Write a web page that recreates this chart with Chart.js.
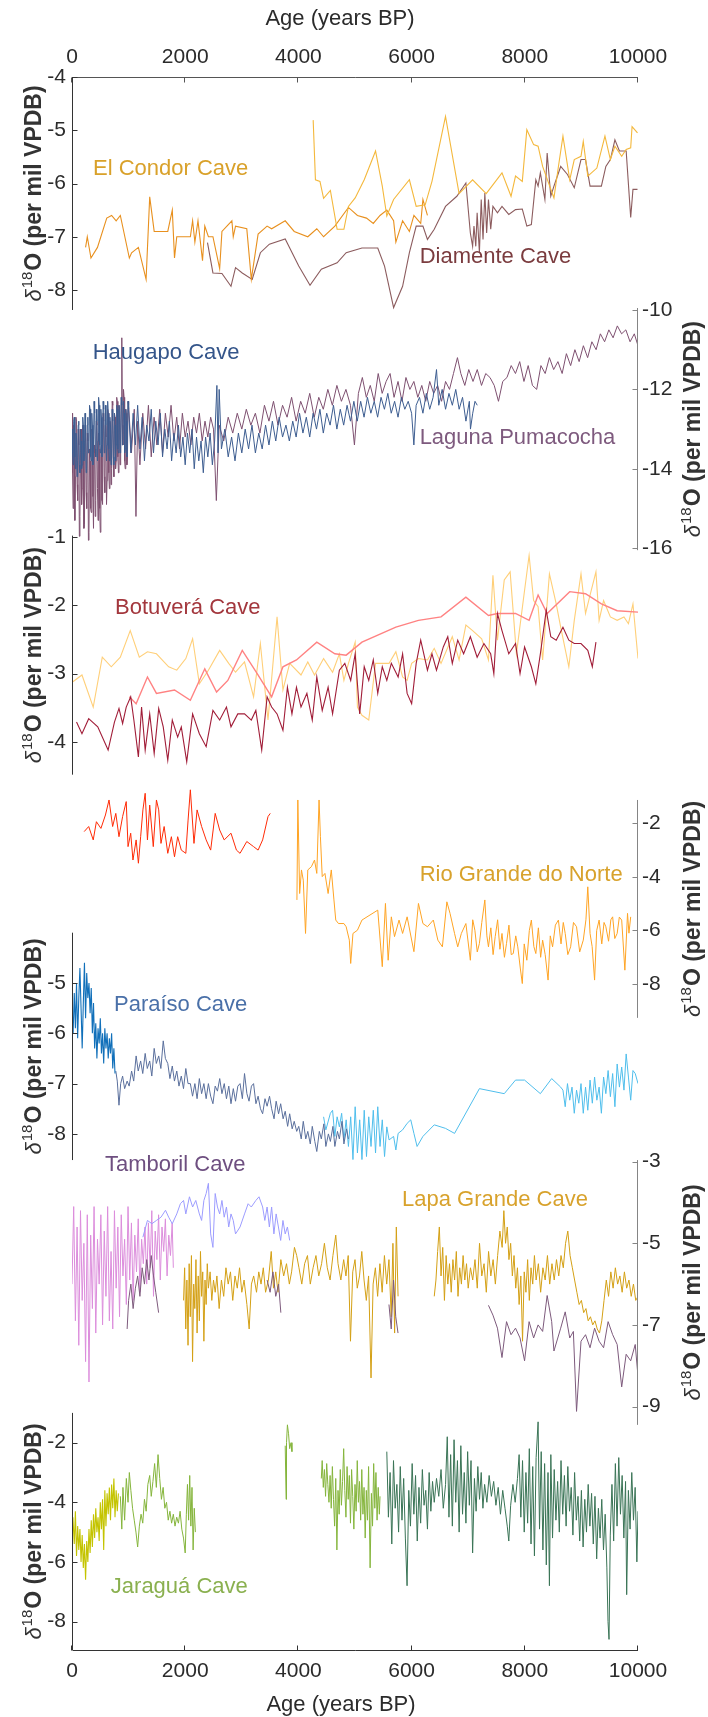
<!DOCTYPE html>
<html><head><meta charset="utf-8">
<script src="https://cdn.jsdelivr.net/npm/chart.js@4.4.1/dist/chart.umd.min.js"></script>
<style>html,body{margin:0;padding:0;background:#fff;}canvas{display:block;}</style>
</head><body>
<canvas id="c" width="708" height="1717"></canvas>
<script>
// ---------- tick labels ----------
const ageTicks = [0, 2000, 4000, 6000, 8000, 10000];
const ticksP1 = [-4, -5, -6, -7, -8];
const ticksP2 = [-10, -12, -14, -16];
const ticksP3 = [-1, -2, -3, -4];
const ticksP4 = [-2, -4, -6, -8];
const ticksP5 = [-5, -6, -7, -8];
const ticksP6 = [-3, -5, -7, -9];
const ticksP7 = [-2, -4, -6, -8];

// ---------- series: [age (years BP), d18O (per mil VPDB)] ----------
const elCondorA = [[240,-7.2],[270,-7.0],[335,-7.4],[450,-7.2],[614,-6.65],[700,-6.6],[780,-6.7],[854,-6.6],[1013,-7.4],[1053,-7.3],[1173,-7.2],[1309,-7.8],[1373,-6.25],[1452,-6.9],[1692,-6.9],[1772,-6.5],[1811,-7.4],[1851,-7.0],[1950,-7.0],[2091,-7.0],[2131,-6.7],[2171,-7.1],[2226,-6.7],[2306,-7.45],[2346,-6.8],[2410,-7.0],[2490,-7.0],[2609,-7.6],[2649,-6.9],[2825,-6.7],[2849,-7.0],[2889,-6.8],[3088,-6.85],[3168,-7.8],[3288,-6.95],[3447,-6.8],[3527,-6.85],[3767,-6.7],[3926,-6.9],[4166,-7.0],[4325,-6.85],[4445,-7.0],[4644,-6.8],[4884,-6.45],[5043,-6.6],[5203,-6.65],[5323,-6.75],[5442,-6.6],[5562,-6.5],[5682,-6.7],[5722,-7.1],[5841,-6.7],[5961,-6.9],[6041,-6.6],[6161,-6.75],[6200,-6.3],[6280,-6.6]];
const elCondorB = [[4261,-4.81],[4301,-5.93],[4381,-5.96],[4445,-6.28],[4565,-6.13],[4684,-6.86],[4804,-6.86],[4884,-6.43],[5003,-6.27],[5163,-5.93],[5363,-5.39],[5482,-6.05],[5562,-6.61],[5682,-6.3],[5961,-5.93],[6081,-6.43],[6240,-6.4],[6360,-5.96],[6599,-4.74],[6839,-6.19],[7078,-5.93],[7318,-6.19],[7597,-5.8],[7757,-6.24],[7836,-5.86],[7956,-5.96],[8036,-4.99],[8156,-5.27],[8235,-5.3],[8315,-5.68],[8515,-6.27],[8594,-5.68],[8674,-5.11],[8794,-5.93],[8874,-5.55],[8993,-5.49],[9033,-5.21],[9113,-5.86],[9273,-5.71],[9416,-5.11],[9512,-5.55],[9592,-5.3],[9712,-5.49],[9791,-5.36],[9871,-5.33],[9895,-4.93],[9991,-5.05]];
const diamente = [[2394,-7.11],[2490,-7.68],[2649,-7.69],[2809,-7.93],[2889,-7.58],[3008,-7.68],[3184,-7.8],[3328,-7.3],[3487,-7.14],[3767,-7.04],[4006,-7.55],[4205,-7.91],[4405,-7.61],[4684,-7.49],[4844,-7.3],[5123,-7.21],[5402,-7.21],[5522,-7.55],[5682,-8.33],[5841,-7.93],[5961,-7.3],[6081,-6.8],[6200,-6.8],[6280,-7.05],[6400,-6.86],[6599,-6.43],[6799,-6.24],[6959,-5.99],[7038,-6.93],[7078,-7.18],[7102,-6.8],[7134,-7.18],[7158,-6.55],[7198,-7.3],[7230,-6.3],[7262,-7.05],[7294,-6.18],[7326,-6.93],[7358,-6.3],[7398,-6.86],[7437,-6.43],[7517,-6.55],[7597,-6.43],[7717,-6.58],[7836,-6.49],[7956,-6.48],[8036,-6.8],[8116,-6.77],[8195,-5.93],[8235,-6.05],[8275,-5.8],[8355,-6.3],[8395,-5.43],[8459,-6.24],[8515,-6.05],[8634,-5.68],[8754,-5.83],[8874,-6.08],[8993,-5.55],[9073,-5.55],[9153,-6.05],[9273,-6.05],[9353,-6.05],[9432,-5.68],[9512,-5.55],[9592,-5.18],[9672,-5.39],[9791,-5.39],[9871,-6.64],[9911,-6.11],[9991,-6.11]];

const pumacocha = [[0,-12.6],[10,-14.1],[20,-15.0],[30,-12.9],[40,-13.1],[50,-15.3],[60,-14.2],[70,-12.7],[80,-12.8],[90,-14.4],[100,-14.8],[110,-13.0],[120,-13.4],[130,-15.7],[140,-15.2],[150,-13.6],[160,-13.0],[170,-14.9],[180,-14.5],[190,-12.9],[200,-13.6],[210,-15.5],[220,-15.4],[230,-13.3],[240,-12.9],[250,-14.6],[260,-15.0],[270,-13.1],[280,-13.3],[290,-15.8],[300,-15.6],[310,-13.5],[320,-13.8],[330,-15.0],[340,-15.1],[350,-13.0],[360,-13.2],[370,-14.7],[380,-15.5],[390,-13.4],[400,-13.6],[410,-15.2],[420,-14.8],[430,-12.8],[440,-12.9],[450,-14.5],[460,-15.3],[470,-13.1],[480,-13.5],[490,-15.0],[500,-15.6],[510,-13.7],[520,-13.4],[530,-14.8],[540,-14.9],[550,-12.6],[560,-12.8],[570,-14.2],[580,-14.6],[590,-12.9],[600,-13.2],[610,-14.9],[620,-14.3],[630,-12.5],[640,-12.6],[650,-14.1],[660,-14.5],[670,-12.8],[680,-12.9],[690,-14.4],[700,-14.0],[710,-12.3],[720,-12.4],[730,-13.9],[740,-14.2],[750,-12.6],[760,-12.7],[770,-14.0],[780,-13.8],[790,-12.2],[800,-12.3],[810,-13.7],[820,-14.1],[830,-12.4],[840,-12.5],[850,-13.9],[860,-13.6],[870,-12.2],[880,-10.7],[890,-12.9],[900,-13.4],[910,-12.0],[920,-12.2],[930,-13.8],[940,-14.0],[950,-12.5],[960,-12.6],[970,-13.9],[980,-13.7],[990,-12.3],[1000,-12.4],
[1050,-13.6],[1100,-12.5],[1130,-15.2],[1160,-12.8],[1200,-13.9],[1250,-12.6],[1300,-13.5],[1350,-12.4],[1400,-13.7],[1450,-12.7],[1500,-13.4],[1550,-12.5],[1600,-13.6],[1650,-12.6],[1700,-13.2],[1750,-12.4],[1800,-13.3],[1850,-12.7],[1900,-13.5],[1950,-12.6],[2000,-13.2],[2050,-12.8],[2100,-13.4],[2150,-12.7],[2200,-13.1],[2250,-12.6],[2300,-13.3],[2350,-12.8],[2400,-13.2],[2450,-12.7],[2500,-13.0],[2550,-14.8],[2600,-12.9],
[2680,-13.3],[2760,-12.7],[2840,-13.1],[2920,-12.6],[3000,-13.0],[3080,-12.5],[3160,-12.9],[3240,-12.6],[3320,-13.1],[3400,-12.4],[3480,-12.8],[3560,-12.3],[3640,-12.9],[3720,-12.4],[3800,-12.7],[3880,-12.2],[3960,-12.8],[4040,-12.3],[4120,-12.6],[4200,-12.1],[4280,-12.7],[4360,-12.2],[4440,-12.5],[4520,-12.0],[4600,-12.4],[4680,-11.9],[4760,-12.3],[4840,-12.0],[4920,-12.4],[4990,-13.4],[5060,-12.1],
[5130,-11.7],[5200,-12.2],[5270,-11.9],[5340,-12.3],[5410,-11.6],[5480,-12.1],[5550,-11.8],[5620,-11.6],[5690,-12.2],[5760,-11.8],[5830,-12.3],[5900,-11.7],[5970,-12.0],[6040,-11.8],[6110,-12.2],[6180,-11.9],[6250,-12.3],[6320,-11.8],[6390,-12.1],[6460,-11.9],[6530,-12.3],[6600,-11.8],[6670,-12.0],[6740,-11.6],[6810,-11.2],[6870,-11.6],[6940,-11.9],
[7010,-11.5],[7085,-11.8],[7160,-11.5],[7235,-11.9],[7310,-11.6],[7385,-11.7],[7460,-11.9],[7535,-12.3],[7610,-11.8],[7685,-11.7],[7760,-11.4],[7835,-11.6],[7910,-11.3],[7985,-11.8],[8060,-11.4],[8135,-11.9],[8210,-12.0],[8285,-11.4],[8360,-11.6],[8435,-11.2],[8510,-11.5],[8585,-11.3],[8660,-11.6],[8735,-11.1],[8810,-11.4],[8885,-11.0],[8960,-11.3],[9035,-10.9],[9110,-11.2],[9185,-10.8],[9260,-11.0],[9335,-10.6],[9410,-10.8],[9485,-10.5],[9560,-10.7],[9635,-10.4],[9710,-10.6],[9785,-10.5],[9860,-10.8],[9935,-10.6],[10000,-10.9]];
const haugapo = [[0,-13.0],[10,-13.6],[20,-13.9],[30,-12.8],[40,-12.7],[50,-13.7],[60,-14.0],[70,-13.1],[80,-13.2],[90,-14.2],[100,-13.8],[110,-12.9],[120,-12.8],[130,-13.9],[140,-14.1],[150,-13.0],[160,-13.3],[170,-14.0],[180,-13.9],[190,-12.7],[200,-12.9],[210,-13.8],[220,-13.6],[230,-12.6],[240,-13.1],[250,-14.1],[260,-14.0],[270,-12.9],[280,-12.7],[290,-13.6],[300,-13.5],[310,-12.4],[320,-12.5],[330,-13.7],[340,-13.8],[350,-12.6],[360,-12.9],[370,-13.9],[380,-13.4],[390,-12.3],[400,-12.6],[410,-13.5],[420,-13.7],[430,-12.5],[440,-12.8],[450,-13.8],[460,-13.3],[470,-12.2],[480,-12.4],[490,-13.4],[500,-13.6],[510,-12.5],[520,-12.7],[530,-13.7],[540,-13.2],[550,-12.3],[560,-12.5],[570,-13.6],[580,-13.5],[590,-12.4],[600,-12.9],[610,-13.8],[620,-13.4],[630,-12.3],[640,-12.6],[650,-13.5],[660,-13.8],[670,-12.7],[680,-13.0],[690,-13.9],[700,-13.5],[710,-12.5],[720,-12.8],[730,-13.7],[740,-13.9],[750,-12.6],[760,-12.9],[770,-13.8],[780,-13.4],[790,-12.4],[800,-12.5],[810,-13.5],[820,-13.6],[830,-12.4],[840,-12.7],[850,-13.6],[860,-13.1],[870,-12.2],[880,-12.4],[890,-13.4],[900,-13.3],[910,-12.3],[920,-12.6],[930,-13.6],[940,-13.5],[950,-12.5],[960,-12.8],[970,-13.7],[980,-13.2],[990,-12.3],[1000,-12.5],
[1040,-13.6],[1080,-12.6],[1120,-13.4],[1160,-12.4],[1200,-13.5],[1240,-12.7],[1280,-13.8],[1320,-12.9],[1360,-13.3],[1400,-12.5],[1440,-13.6],[1480,-12.8],[1520,-13.4],[1560,-12.6],[1600,-13.7],[1640,-13.0],[1680,-13.5],[1720,-12.8],[1760,-13.8],[1800,-13.1],[1840,-13.6],[1880,-12.9],[1920,-13.7],[1960,-13.2],[2000,-13.9],[2040,-13.1],[2080,-13.6],[2120,-13.0],[2160,-14.0],[2200,-13.2],[2240,-13.8],[2280,-13.3],[2320,-14.1],[2360,-13.2],[2400,-13.7],[2440,-13.1],[2480,-13.9],[2520,-13.3],[2560,-11.9],[2580,-13.6],[2600,-12.0],[2640,-13.5],
[2700,-13.0],[2760,-13.7],[2820,-13.2],[2880,-13.8],[2940,-13.1],[3000,-13.6],[3060,-13.0],[3120,-13.5],[3180,-12.9],[3240,-13.6],[3300,-13.1],[3360,-13.5],[3420,-12.9],[3480,-13.4],[3540,-12.8],[3600,-13.3],[3660,-12.7],[3720,-13.2],[3780,-12.9],[3840,-13.3],[3900,-12.8],[3960,-13.2],[4020,-12.6],[4080,-13.1],[4140,-12.7],[4200,-13.2],[4260,-12.6],[4320,-13.0],[4380,-12.5],[4440,-13.1],[4500,-12.6],[4560,-12.9],[4620,-12.4],[4680,-13.0],[4740,-12.5],[4800,-12.9],[4860,-12.4],[4920,-12.8],[4980,-12.3],
[5040,-12.8],[5100,-12.3],[5160,-12.7],[5220,-12.2],[5280,-12.6],[5340,-12.3],[5400,-12.7],[5460,-12.2],[5520,-12.5],[5580,-12.1],[5640,-12.6],[5700,-12.3],[5760,-12.7],[5820,-12.2],[5880,-12.5],[5940,-12.3],[6000,-12.6],[6040,-13.4],[6080,-12.4],[6140,-12.2],[6200,-12.6],[6260,-12.1],[6320,-12.5],[6380,-12.2],[6440,-11.5],[6480,-12.4],[6540,-12.0],[6600,-12.5],[6660,-12.1],[6720,-12.4],[6780,-12.0],[6840,-12.5],[6900,-12.2],[6960,-12.8],[7020,-12.3],[7040,-13.0],[7080,-12.6],[7120,-12.3],[7160,-12.4]];

const botuveraLight = [[16,-3.12],[176,-3.02],[375,-3.49],[535,-2.76],[694,-2.9],[854,-2.76],[1029,-2.37],[1189,-2.76],[1333,-2.68],[1492,-2.71],[1708,-2.9],[1851,-2.95],[2011,-2.78],[2131,-2.49],[2250,-3.15],[2410,-2.95],[2609,-2.66],[2769,-2.85],[2889,-2.98],[3048,-2.83],[3208,-3.34],[3328,-2.56],[3463,-3.68],[3623,-2.17],[3727,-3.24],[3846,-2.85],[4046,-3.02],[4166,-2.83],[4285,-3.02],[4445,-2.78],[4604,-2.98],[4724,-2.71],[4804,-3.1],[4884,-2.85],[5003,-2.54],[5043,-3.49],[5123,-3.61],[5243,-3.68],[5363,-2.85],[5482,-2.85],[5602,-2.85],[5722,-2.68],[5841,-3.05],[5921,-3.1],[6001,-2.85],[6121,-2.78],[6280,-2.8],[6400,-2.63],[6520,-2.85],[6719,-2.46],[6839,-2.8],[6959,-2.29],[7078,-2.37],[7238,-2.49],[7358,-2.8],[7437,-1.56],[7517,-2.51],[7637,-1.63],[7741,-1.51],[7852,-2.71],[7996,-1.78],[8076,-1.27],[8156,-1.93],[8235,-2.02],[8315,-2.8],[8435,-1.54],[8555,-1.98],[8634,-2.32],[8778,-2.9],[8874,-2.22],[8993,-1.54],[9073,-2.12],[9153,-1.85],[9257,-1.51],[9313,-2.22],[9392,-1.93],[9512,-2.17],[9632,-2.22],[9752,-2.17],[9831,-2.27],[9911,-1.98],[10000,-2.78]];
const botuveraSalmon = [[1013,-3.34],[1133,-3.44],[1333,-3.05],[1492,-3.29],[1811,-3.24],[2091,-3.39],[2346,-2.93],[2554,-3.27],[2753,-3.1],[3008,-2.66],[3272,-3.0],[3527,-3.34],[3727,-2.9],[3966,-2.8],[4325,-2.54],[4644,-2.71],[4844,-2.73],[5123,-2.54],[5722,-2.32],[6121,-2.22],[6520,-2.17],[6959,-1.88],[7358,-2.15],[7517,-2.12],[7836,-2.12],[8076,-2.22],[8235,-1.85],[8395,-2.12],[8794,-1.8],[9073,-1.83],[9353,-1.98],[9632,-2.08],[10000,-2.1]];
const botuvera = [[80,-3.71],[176,-3.88],[295,-3.66],[455,-3.78],[638,-4.12],[750,-3.71],[830,-3.51],[894,-3.73],[958,-3.49],[1037,-3.34],[1093,-3.68],[1173,-4.22],[1229,-3.49],[1293,-4.12],[1373,-3.59],[1452,-4.17],[1532,-3.51],[1612,-3.78],[1692,-4.27],[1772,-3.68],[1867,-3.93],[1931,-3.78],[2027,-4.29],[2131,-3.59],[2250,-3.88],[2370,-4.07],[2490,-3.54],[2609,-3.68],[2729,-3.49],[2809,-3.78],[2929,-3.59],[3048,-3.59],[3168,-3.68],[3248,-3.54],[3352,-4.12],[3447,-3.34],[3527,-3.49],[3623,-3.59],[3727,-3.83],[3806,-3.2],[3886,-3.59],[3966,-3.2],[4046,-3.49],[4150,-3.29],[4245,-3.68],[4325,-3.05],[4421,-3.54],[4525,-3.2],[4604,-3.59],[4724,-2.95],[4820,-2.85],[4924,-3.1],[5003,-2.71],[5083,-3.59],[5163,-2.9],[5243,-3.1],[5323,-2.8],[5402,-3.29],[5482,-2.9],[5562,-3.1],[5642,-2.85],[5762,-3.05],[5841,-2.71],[5921,-3.29],[6001,-3.44],[6081,-2.85],[6161,-2.51],[6280,-2.95],[6360,-2.71],[6440,-2.95],[6560,-2.61],[6639,-2.46],[6719,-2.85],[6815,-2.51],[6919,-2.71],[7038,-2.46],[7158,-2.76],[7278,-2.56],[7397,-2.71],[7453,-3.0],[7517,-2.12],[7597,-2.37],[7717,-2.71],[7836,-2.56],[7916,-3.0],[7996,-2.61],[8116,-2.9],[8195,-3.15],[8275,-2.71],[8379,-2.07],[8459,-2.46],[8555,-2.51],[8674,-2.32],[8778,-2.51],[8874,-2.56],[8993,-2.56],[9113,-2.66],[9193,-2.9],[9257,-2.54]];

const rgnRed = [[215,-2.31],[295,-2.12],[375,-2.62],[431,-1.94],[511,-2.19],[591,-1.69],[654,-1.13],[718,-2.12],[774,-1.63],[830,-2.5],[894,-1.75],[958,-1.19],[990,-2.87],[1037,-2.37],[1077,-3.37],[1133,-2.62],[1173,-3.49],[1213,-2.5],[1253,-1.5],[1293,-0.88],[1333,-2.62],[1373,-1.32],[1436,-2.87],[1492,-1.13],[1532,-1.5],[1572,-2.75],[1628,-2.12],[1692,-3.12],[1756,-2.5],[1811,-3.25],[1867,-2.5],[1931,-3.0],[2011,-3.12],[2051,-1.88],[2091,-0.75],[2155,-2.75],[2210,-1.5],[2290,-2.12],[2370,-2.62],[2450,-3.0],[2530,-1.63],[2609,-2.25],[2689,-2.62],[2809,-2.37],[2905,-3.0],[2969,-3.12],[3088,-2.68],[3208,-2.87],[3288,-3.0],[3368,-2.62],[3463,-1.75],[3503,-1.63]];
const rgnOrange = [[3974,-4.86],[3990,-1.13],[4022,-4.62],[4054,-3.74],[4086,-4.12],[4126,-6.11],[4166,-3.74],[4229,-3.62],[4285,-3.37],[4325,-3.87],[4365,-1.13],[4389,-2.5],[4421,-3.99],[4469,-3.87],[4525,-4.62],[4581,-3.74],[4628,-4.86],[4660,-5.61],[4708,-5.74],[4804,-5.74],[4844,-5.86],[4900,-6.36],[4924,-7.23],[4964,-6.11],[5043,-5.99],[5123,-5.61],[5402,-5.24],[5482,-7.35],[5538,-4.99],[5586,-7.11],[5642,-5.49],[5698,-6.23],[5778,-5.61],[5841,-6.11],[5921,-5.49],[6041,-6.79],[6121,-4.99],[6200,-5.74],[6280,-5.86],[6384,-5.61],[6464,-6.36],[6544,-6.61],[6623,-4.93],[6679,-5.36],[6759,-6.11],[6815,-6.61],[6879,-6.11],[6959,-5.74],[7038,-7.11],[7080,-5.6],[7118,-5.99],[7160,-6.8],[7198,-6.48],[7240,-5.7],[7294,-4.86],[7330,-6.2],[7358,-6.61],[7400,-5.9],[7440,-6.9],[7477,-6.23],[7520,-5.6],[7560,-6.7],[7597,-6.11],[7640,-7.0],[7677,-6.48],[7720,-5.8],[7760,-6.9],[7796,-6.86],[7840,-6.2],[7876,-6.61],[7920,-7.4],[7956,-7.98],[7990,-6.5],[8036,-7.11],[8080,-6.0],[8116,-5.61],[8160,-6.6],[8195,-6.86],[8240,-5.9],[8280,-7.0],[8315,-6.36],[8360,-6.9],[8411,-7.85],[8450,-6.2],[8491,-6.61],[8540,-5.8],[8594,-5.61],[8640,-6.5],[8680,-5.7],[8714,-6.11],[8760,-6.9],[8810,-6.61],[8860,-5.7],[8914,-5.86],[8970,-6.8],[9033,-6.36],[9080,-5.6],[9113,-4.37],[9153,-6.11],[9190,-6.6],[9233,-7.85],[9270,-6.0],[9313,-5.61],[9360,-6.5],[9400,-5.7],[9432,-5.86],[9480,-6.4],[9520,-5.6],[9552,-5.49],[9590,-6.3],[9632,-6.11],[9670,-5.5],[9712,-5.61],[9768,-7.48],[9815,-5.36],[9840,-6.1],[9871,-5.49]];

const paraisoDark = [[0,-5.6],[20,-6.0],[40,-5.2],[60,-5.9],[80,-5.0],[100,-6.1],[120,-5.3],[140,-4.7],[160,-5.5],[180,-6.3],[200,-5.4],[220,-4.6],[240,-5.7],[260,-4.8],[280,-5.3],[300,-5.0],[320,-5.6],[340,-5.1],[360,-6.0],[380,-5.4],[400,-6.3],[420,-5.8],[440,-6.5],[460,-5.9],[480,-6.2],[500,-5.7],[520,-6.4],[540,-6.0],[560,-6.6],[580,-5.9],[600,-6.3],[620,-6.0],[640,-6.5],[660,-6.1],[680,-6.4],[700,-6.0],[720,-6.7],[740,-6.3],[760,-6.8]];
const paraisoSlate = [[774,-6.75],[800,-6.95],[830,-7.43],[860,-7.0],[894,-6.85],[930,-7.1],[974,-6.95],[1010,-7.05],[1053,-6.75],[1090,-6.95],[1133,-6.45],[1170,-6.75],[1213,-6.55],[1250,-6.8],[1293,-6.4],[1330,-6.7],[1373,-6.55],[1410,-6.85],[1452,-6.3],[1490,-6.6],[1532,-6.45],[1570,-6.7],[1612,-6.15],[1650,-6.5],[1692,-6.6],[1730,-6.9],[1772,-6.65],[1810,-6.95],[1851,-6.75],[1890,-7.05],[1931,-6.85],[1970,-7.1],[2011,-6.7],[2050,-7.0],[2091,-7.0],[2130,-7.25],[2171,-7.0],[2210,-7.3],[2250,-6.9],[2290,-7.2],[2330,-7.0],[2370,-7.3],[2410,-7.0],[2450,-7.25],[2490,-7.4],[2530,-7.05],[2570,-7.15],[2610,-6.9],[2649,-7.2],[2690,-7.0],[2729,-7.3],[2770,-7.05],[2809,-7.4],[2850,-7.1],[2889,-7.35],[2930,-7.05],[2969,-7.0],[3010,-7.3],[3048,-6.8],[3090,-7.2],[3128,-7.35],[3170,-7.05],[3208,-7.0],[3250,-7.4],[3288,-7.25],[3330,-7.5],[3368,-7.6],[3410,-7.3],[3447,-7.45],[3490,-7.25],[3527,-7.5],[3570,-7.7],[3607,-7.35],[3650,-7.6],[3687,-7.4],[3730,-7.7],[3767,-7.55],[3810,-7.85],[3846,-7.6],[3890,-7.9],[3926,-7.75],[3970,-7.95],[4006,-7.85],[4050,-8.1],[4086,-7.75],[4130,-8.1],[4166,-7.95],[4210,-8.2],[4245,-7.85],[4290,-8.15],[4325,-8.35],[4370,-7.95],[4405,-8.1],[4450,-7.8],[4485,-8.25],[4530,-8.0],[4565,-8.15],[4610,-7.85],[4644,-8.25],[4690,-7.95],[4724,-8.1],[4770,-7.75],[4804,-8.2],[4850,-7.9],[4884,-8.1]];
const paraisoLight = [[4445,-7.66],[4485,-7.92],[4565,-7.59],[4604,-7.53],[4644,-8.05],[4684,-7.66],[4724,-7.86],[4764,-7.59],[4804,-8.12],[4844,-7.72],[4884,-8.25],[4924,-7.66],[4964,-8.51],[5003,-7.46],[5043,-8.38],[5083,-7.72],[5123,-8.51],[5163,-7.53],[5203,-8.45],[5243,-7.66],[5283,-8.25],[5323,-7.53],[5363,-8.38],[5402,-7.46],[5442,-8.25],[5482,-7.72],[5522,-8.45],[5562,-7.86],[5602,-8.12],[5682,-8.05],[5722,-8.32],[5762,-7.99],[5841,-7.92],[5921,-7.79],[5985,-7.72],[6041,-7.99],[6097,-8.25],[6200,-8.05],[6400,-7.82],[6599,-7.89],[6759,-7.99],[7198,-7.1],[7637,-7.2],[7836,-6.93],[7996,-6.93],[8275,-7.2],[8475,-6.9],[8634,-7.07],[8674,-7.13],[8714,-7.46],[8754,-7.0],[8794,-7.33],[8834,-7.07],[8874,-7.59],[8914,-7.13],[8954,-7.39],[8993,-7.0],[9033,-7.59],[9073,-7.07],[9113,-7.53],[9153,-6.93],[9193,-7.39],[9233,-6.87],[9273,-7.33],[9313,-7.07],[9353,-7.59],[9392,-6.87],[9432,-7.2],[9472,-6.74],[9512,-7.26],[9552,-6.8],[9592,-7.46],[9632,-6.61],[9672,-7.07],[9712,-6.67],[9752,-7.13],[9791,-6.41],[9831,-6.87],[9871,-7.33],[9911,-6.74],[9951,-6.8],[10000,-7.0]];

const tamborilPink = [[0,-6.0],[30,-4.1],[60,-6.9],[90,-4.6],[120,-7.5],[150,-4.2],[180,-6.4],[210,-5.0],[240,-7.9],[270,-4.3],[300,-8.4],[330,-4.8],[360,-6.6],[390,-4.1],[420,-7.2],[450,-4.9],[480,-6.0],[510,-4.3],[540,-7.0],[570,-4.7],[600,-6.3],[630,-4.1],[660,-6.9],[690,-5.2],[720,-7.1],[750,-4.2],[780,-6.1],[810,-4.6],[840,-6.8],[870,-4.3],[900,-5.8],[930,-4.9],[960,-6.5],[990,-4.1],[1020,-5.9],[1050,-4.5],[1080,-6.4],[1110,-4.8],[1140,-5.7],[1170,-4.4],[1200,-6.2],[1230,-4.9],[1260,-5.5],[1290,-4.6],[1320,-6.0],[1350,-4.5],[1380,-5.6],[1410,-4.2],[1440,-6.3],[1470,-4.7],[1500,-5.4],[1530,-4.3],[1560,-5.9],[1590,-4.6],[1620,-5.2],[1650,-4.4],[1680,-5.8],[1710,-4.8],[1740,-5.3],[1770,-4.5],[1790,-5.6]];
const tamborilBlue = [[1253,-4.85],[1333,-4.44],[1412,-4.52],[1492,-4.44],[1572,-4.36],[1652,-4.19],[1708,-4.36],[1772,-4.52],[1851,-4.28],[1915,-4.03],[1971,-3.95],[2011,-4.28],[2075,-3.86],[2131,-4.11],[2187,-3.95],[2250,-4.28],[2290,-4.44],[2330,-3.95],[2370,-3.78],[2410,-3.53],[2450,-4.77],[2490,-5.1],[2530,-3.78],[2570,-4.11],[2609,-4.28],[2649,-3.95],[2689,-4.36],[2729,-4.11],[2769,-4.6],[2809,-4.28],[2849,-4.44],[2889,-4.77],[2969,-4.6],[3048,-4.28],[3112,-4.03],[3168,-4.11],[3248,-3.95],[3304,-3.86],[3368,-4.11],[3407,-4.44],[3447,-4.11],[3487,-4.6],[3527,-4.11],[3567,-4.77],[3607,-4.28],[3647,-4.6],[3687,-4.93],[3727,-4.44],[3767,-4.77],[3806,-4.6],[3846,-4.93]];
const tamborilMauve1 = [[974,-7.1],[1000,-6.4],[1040,-6.0],[1080,-6.6],[1120,-6.1],[1160,-5.8],[1200,-6.3],[1240,-5.6],[1280,-6.0],[1320,-5.4],[1360,-5.9],[1400,-5.3],[1440,-5.8],[1480,-6.2],[1530,-6.7]];
const tamborilMauve2 = [[3447,-5.9],[3500,-6.2],[3550,-5.7],[3600,-6.3],[3650,-6.0],[3690,-6.7]];
const tamborilMauve3 = [[5600,-6.5],[5640,-7.1],[5680,-5.9],[5720,-6.8],[5760,-7.2]];
const tamborilMauve4 = [[7358,-6.52],[7437,-6.76],[7517,-7.08],[7597,-7.8],[7677,-6.92],[7757,-7.24],[7836,-7.08],[7916,-7.32],[7996,-7.88],[8076,-6.92],[8156,-7.32],[8235,-7.0],[8315,-7.16],[8395,-6.28],[8475,-6.92],[8515,-7.64],[8634,-7.08],[8714,-6.68],[8794,-7.32],[8858,-7.16],[8914,-9.12],[8993,-7.4],[9073,-7.24],[9153,-7.56],[9233,-7.08],[9313,-7.4],[9392,-7.56],[9472,-6.92],[9552,-7.24],[9632,-7.48],[9712,-8.52],[9791,-7.72],[9871,-7.88],[9951,-7.48],[9991,-8.12]];
const lapaGrandeA = [[1971,-6.4],[1990,-5.6],[2010,-7.1],[2030,-5.9],[2050,-7.5],[2070,-5.5],[2090,-6.8],[2110,-5.3],[2130,-7.9],[2150,-6.0],[2170,-6.6],[2190,-5.4],[2210,-7.2],[2230,-5.8],[2250,-6.9],[2270,-5.2],[2290,-6.3],[2310,-5.7],[2330,-7.4],[2350,-5.9],[2370,-6.5],[2390,-5.5],[2410,-6.1],[2440,-5.7],[2470,-6.4],[2500,-5.9],[2530,-6.2],[2560,-5.8],[2600,-6.6],[2640,-5.9],[2680,-6.3],[2720,-5.6],[2760,-6.0],[2800,-5.7],[2840,-6.4],[2880,-5.8],[2920,-6.1],[2960,-5.6],[3000,-6.2],[3040,-5.9],[3090,-6.5],[3130,-7.1],[3170,-6.0],[3210,-5.8],[3260,-6.2],[3300,-5.7],[3340,-6.0],[3380,-5.6],[3420,-6.2],[3470,-5.9],[3520,-5.2],[3560,-6.1],[3600,-5.7],[3640,-6.2],[3690,-5.4],[3740,-5.8],[3790,-5.5],[3840,-6.0],[3880,-5.7],[3930,-5.1],[3970,-5.3],[4010,-5.6],[4060,-6.0],[4110,-5.5],[4160,-5.3],[4210,-6.0],[4260,-5.6],[4310,-5.3],[4360,-5.8],[4410,-5.5],[4460,-5.0],[4510,-5.6],[4560,-5.9],[4610,-5.3],[4660,-4.8],[4700,-5.5],[4750,-5.9],[4800,-5.4],[4840,-5.8],[4880,-5.3],[4920,-7.4],[4960,-5.7],[5000,-5.4],[5040,-6.1],[5080,-5.8],[5120,-5.2],[5160,-5.9],[5200,-6.4],[5240,-5.8],[5283,-8.3],[5320,-6.0],[5360,-5.6],[5400,-6.3],[5440,-5.5],[5480,-6.2],[5520,-5.3],[5560,-6.0],[5600,-5.4],[5640,-6.8],[5670,-5.0],[5700,-7.2],[5730,-4.6],[5761,-6.3]];
const lapaGrandeB = [[6400,-6.3],[6430,-5.9],[6460,-5.2],[6490,-4.6],[6520,-5.8],[6550,-5.1],[6580,-6.4],[6610,-5.3],[6640,-6.0],[6670,-5.5],[6700,-6.2],[6730,-5.4],[6760,-5.9],[6790,-5.2],[6820,-6.3],[6850,-5.6],[6880,-6.0],[6910,-5.3],[6940,-5.9],[6970,-5.5],[7000,-6.1],[7040,-5.6],[7080,-5.9],[7120,-5.4],[7160,-6.1],[7200,-5.0],[7240,-5.8],[7280,-5.5],[7320,-6.2],[7360,-5.2],[7400,-5.8],[7440,-5.4],[7480,-6.0],[7520,-5.3],[7560,-4.7],[7600,-5.1],[7630,-4.2],[7660,-5.0],[7690,-4.6],[7720,-5.4],[7750,-5.0],[7780,-5.8],[7810,-5.3],[7840,-6.1],[7870,-5.6],[7900,-6.5],[7930,-5.8],[7960,-7.4],[7990,-5.7],[8020,-6.2],[8050,-5.4],[8080,-6.4],[8110,-5.6],[8140,-6.0],[8170,-5.3],[8200,-5.9],[8240,-5.5],[8280,-6.2],[8320,-5.6],[8360,-5.9],[8400,-5.3],[8440,-6.0],[8480,-5.5],[8520,-5.9],[8560,-5.4],[8600,-5.8],[8640,-5.3],[8680,-5.6],[8720,-5.0],[8760,-4.7],[8800,-5.3],[8840,-5.6],[8880,-5.9],[8920,-6.2],[8960,-6.5],[9000,-6.4],[9040,-6.7],[9080,-6.6],[9120,-6.9],[9160,-6.8],[9200,-7.0],[9240,-6.9],[9280,-7.1],[9320,-7.2],[9360,-6.9],[9400,-6.4],[9440,-5.9],[9480,-6.3],[9520,-5.7],[9560,-6.1],[9600,-5.6],[9640,-6.0],[9680,-5.8],[9720,-6.2],[9760,-5.7],[9800,-6.1],[9840,-5.9],[9880,-6.3],[9920,-6.0],[9960,-6.4],[10000,-6.3]];

const jaraguaYellow = [[16,-4.5],[40,-5.4],[60,-4.3],[80,-5.8],[100,-4.8],[120,-5.6],[140,-4.9],[160,-6.0],[180,-5.1],[200,-6.2],[220,-5.4],[240,-6.6],[260,-5.3],[280,-6.0],[300,-4.9],[320,-5.7],[340,-4.6],[360,-5.5],[380,-4.4],[400,-5.2],[420,-4.2],[440,-5.0],[460,-4.5],[480,-5.3],[500,-4.0],[520,-4.9],[540,-3.9],[560,-5.6],[580,-3.6],[600,-4.8],[620,-3.7],[640,-4.4],[660,-3.5],[680,-4.6],[700,-3.4],[720,-4.2],[740,-3.2],[760,-4.5],[780,-3.6],[800,-4.3],[820,-3.7]];
const jaraguaLightA = [[854,-3.8],[880,-4.9],[900,-3.5],[930,-4.6],[960,-3.2],[990,-4.0],[1013,-3.0],[1040,-3.6],[1070,-4.2],[1100,-4.6],[1130,-5.0],[1160,-5.5],[1190,-4.8],[1220,-4.4],[1250,-4.7],[1280,-3.9],[1310,-4.3],[1340,-3.4],[1373,-3.1],[1400,-3.8],[1430,-3.3],[1460,-2.7],[1490,-3.5],[1520,-2.4],[1550,-3.2],[1580,-3.9],[1610,-3.5],[1640,-4.2],[1670,-4.0],[1700,-4.6],[1730,-4.3],[1760,-4.7],[1790,-4.4],[1820,-4.8],[1850,-4.5],[1880,-4.7],[1910,-4.3],[1940,-4.9],[1970,-5.2],[2000,-5.7],[2020,-4.4],[2040,-3.4],[2060,-4.6],[2080,-3.1],[2100,-4.8],[2120,-3.5],[2140,-5.6],[2160,-4.2],[2180,-5.0]];
const jaraguaLightB = [[3767,-2.1],[3783,-3.9],[3790,-2.0],[3806,-1.4],[3826,-1.7],[3846,-2.2],[3870,-2.0],[3886,-2.3]];
const jaraguaLightC = [[4405,-3.2],[4420,-2.6],[4440,-3.5],[4460,-2.9],[4480,-3.8],[4500,-2.7],[4520,-3.4],[4540,-4.0],[4560,-3.1],[4580,-4.2],[4600,-2.8],[4620,-3.9],[4640,-4.8],[4660,-3.2],[4680,-5.6],[4700,-3.6],[4720,-4.4],[4740,-2.9],[4760,-4.1],[4780,-3.3],[4800,-2.2],[4820,-3.6],[4840,-4.5],[4860,-2.8],[4880,-3.9],[4900,-3.1],[4920,-4.7],[4940,-2.9],[4960,-3.8],[4980,-4.9],[5000,-3.4],[5020,-4.3],[5040,-2.6],[5060,-4.0],[5080,-3.3],[5100,-4.6],[5120,-2.9],[5140,-4.4],[5160,-3.5],[5180,-5.2],[5200,-3.6],[5220,-4.6],[5240,-2.8],[5267,-6.2],[5290,-3.7],[5310,-4.8],[5330,-2.7],[5350,-4.2],[5370,-3.0],[5390,-4.6],[5410,-3.5],[5430,-4.4],[5442,-3.8]];
const jaraguaDark = [[5562,-2.3],[5590,-4.5],[5620,-3.0],[5650,-5.4],[5680,-2.6],[5710,-4.2],[5740,-3.4],[5770,-5.0],[5800,-2.8],[5830,-4.6],[5860,-3.2],[5890,-5.2],[5920,-6.8],[5950,-3.6],[5980,-4.8],[6010,-2.7],[6040,-4.4],[6070,-3.1],[6100,-5.3],[6130,-3.5],[6160,-4.7],[6190,-2.9],[6220,-4.1],[6250,-3.6],[6280,-4.9],[6310,-3.0],[6340,-4.3],[6370,-3.3],[6400,-4.0],[6440,-3.2],[6480,-3.8],[6520,-2.9],[6560,-4.2],[6600,-3.4],[6630,-1.8],[6660,-4.5],[6690,-2.4],[6720,-4.8],[6750,-1.9],[6780,-4.0],[6810,-2.6],[6840,-5.0],[6870,-2.1],[6900,-4.4],[6930,-3.0],[6960,-4.7],[6990,-2.3],[7020,-4.1],[7050,-2.6],[7078,-5.7],[7110,-3.2],[7140,-4.3],[7170,-2.8],[7200,-3.9],[7230,-3.0],[7260,-4.2],[7290,-3.4],[7330,-4.0],[7370,-3.1],[7410,-3.8],[7450,-3.3],[7490,-4.1],[7530,-3.5],[7570,-4.4],[7610,-3.6],[7650,-4.2],[7690,-4.8],[7717,-5.3],[7750,-4.1],[7790,-3.4],[7830,-4.0],[7870,-3.2],[7900,-2.4],[7930,-4.5],[7960,-2.6],[7990,-5.0],[8020,-3.0],[8050,-4.7],[8080,-2.2],[8110,-5.4],[8140,-2.8],[8170,-5.8],[8200,-2.5],[8235,-1.3],[8260,-4.9],[8290,-2.3],[8320,-5.6],[8350,-2.7],[8380,-6.1],[8410,-3.0],[8435,-6.8],[8460,-2.4],[8490,-5.2],[8520,-2.9],[8550,-4.6],[8580,-3.3],[8610,-5.0],[8640,-2.6],[8670,-4.4],[8700,-3.1],[8730,-4.8],[8760,-2.8],[8790,-4.3],[8820,-3.5],[8850,-5.1],[8880,-3.0],[8910,-4.6],[8940,-3.8],[8970,-5.3],[9000,-3.6],[9030,-5.5],[9060,-3.9],[9090,-5.0],[9120,-3.4],[9150,-4.8],[9180,-3.7],[9210,-5.4],[9240,-3.8],[9270,-5.9],[9300,-4.2],[9330,-5.2],[9360,-3.9],[9390,-5.6],[9420,-4.4],[9450,-6.2],[9470,-8.0],[9488,-8.6],[9510,-5.1],[9540,-3.4],[9570,-5.3],[9600,-2.7],[9630,-4.8],[9660,-2.5],[9690,-4.4],[9720,-3.1],[9750,-5.2],[9780,-3.3],[9800,-7.1],[9830,-3.6],[9860,-4.9],[9890,-3.0],[9920,-4.6],[9950,-3.5],[9980,-6.0],[10000,-4.3]];

// ---------- layout (pixels) ----------
const W = 708, H = 1717;
const AREA = {left: 72, right: 638, top: 77, bottom: 1650};
const FONT = "'Liberation Sans', Arial, Helvetica, sans-serif";
const TEXT = '#2b2b2b';
const PANELS = [
  {id:'y1', side:'left',  refVal:-4,  refPx:77,    ppu:53.25, ticks:ticksP1, axis:[-4, -8.375]},
  {id:'y2', side:'right', refVal:-10, refPx:310,   ppu:39.7,  ticks:ticksP2, axis:[-9.95, -16.05]},
  {id:'y3', side:'left',  refVal:-1,  refPx:537,   ppu:68.3,  ticks:ticksP3, axis:[-0.98, -4.48]},
  {id:'y4', side:'right', refVal:-2,  refPx:823.3, ppu:26.8,  ticks:ticksP4, axis:[-1.13, -9.26]},
  {id:'y5', side:'left',  refVal:-5,  refPx:983,   ppu:50.3,  ticks:ticksP5, axis:[-4.0, -8.52]},
  {id:'y6', side:'right', refVal:-3,  refPx:1161.7,ppu:40.8,  ticks:ticksP6, axis:[-2.96, -9.45]},
  {id:'y7', side:'left',  refVal:-2,  refPx:1442.7,ppu:29.8,  ticks:ticksP7, axis:[-1.0, -8.96]}
];

const SERIES = [
  {data: diamente,       axis:'y1', color:'#8c5c5e', w:1.1},
  {data: elCondorA,      axis:'y1', color:'#e8901e', w:1.1},
  {data: elCondorB,      axis:'y1', color:'#f4b83c', w:1.1},
  {data: pumacocha,      axis:'y2', color:'#7e5070', w:1},
  {data: haugapo,        axis:'y2', color:'#3d5d90', w:1},
  {data: botuveraLight,  axis:'y3', color:'#ffcf78', w:1.1},
  {data: botuveraSalmon, axis:'y3', color:'#ff8282', w:1.4},
  {data: botuvera,       axis:'y3', color:'#a11d38', w:1.1},
  {data: rgnRed,         axis:'y4', color:'#ff2a05', w:1},
  {data: rgnOrange,      axis:'y4', color:'#ffa424', w:1},
  {data: paraisoLight,   axis:'y5', color:'#4fbeec', w:1},
  {data: paraisoSlate,   axis:'y5', color:'#5a6f9c', w:1},
  {data: paraisoDark,    axis:'y5', color:'#1170ba', w:1.1},
  {data: tamborilPink,   axis:'y6', color:'#dc8ddc', w:1},
  {data: tamborilBlue,   axis:'y6', color:'#9c9cff', w:1},
  {data: lapaGrandeA,    axis:'y6', color:'#d4a015', w:1},
  {data: lapaGrandeB,    axis:'y6', color:'#d4a015', w:1},
  {data: tamborilMauve1, axis:'y6', color:'#7d5a7c', w:1},
  {data: tamborilMauve2, axis:'y6', color:'#7d5a7c', w:1},
  {data: tamborilMauve3, axis:'y6', color:'#7d5a7c', w:1},
  {data: tamborilMauve4, axis:'y6', color:'#7d5a7c', w:1},
  {data: jaraguaYellow,  axis:'y7', color:'#c4c400', w:1.1},
  {data: jaraguaLightA,  axis:'y7', color:'#85b53c', w:1},
  {data: jaraguaLightB,  axis:'y7', color:'#85b53c', w:1},
  {data: jaraguaLightC,  axis:'y7', color:'#85b53c', w:1},
  {data: jaraguaDark,    axis:'y7', color:'#3a7456', w:1}
];

const LABELS = [
  {text:'El Condor Cave',      axis:'y1', at:[371, -5.73],   color:'#d9a12a'},
  {text:'Diamente Cave',       axis:'y1', at:[6142, -7.37],  color:'#7b3c3f'},
  {text:'Haugapo Cave',        axis:'y2', at:[366, -11.08],  color:'#34558a'},
  {text:'Laguna Pumacocha',    axis:'y2', at:[6142, -13.22], color:'#7e5a7e'},
  {text:'Botuverá Cave',       axis:'y3', at:[760, -2.04],   color:'#a3373d'},
  {text:'Rio Grande do Norte', axis:'y4', at:[6142, -3.93],  color:'#d8a22c'},
  {text:'Paraíso Cave',        axis:'y5', at:[742, -5.44],   color:'#4a70a8'},
  {text:'Tamboril Cave',       axis:'y6', at:[583, -3.08],   color:'#6e4f80'},
  {text:'Lapa Grande Cave',    axis:'y6', at:[5831, -3.94],  color:'#d8a22c'},
  {text:'Jaraguá Cave',        axis:'y7', at:[686, -6.84],   color:'#8ab04f'}
];

// ---------- scales ----------
function panelRange(p) {
  return {
    max: p.refVal + (p.refPx - AREA.top) / p.ppu,
    min: p.refVal - (AREA.bottom - p.refPx) / p.ppu
  };
}
const plain = v => String(v);
const scales = {
  x: {
    type:'linear', position:'bottom', min:0, max:10000,
    afterBuildTicks: s => { s.ticks = ageTicks.map(v => ({value:v})); },
    afterFit: s => { s.height = H - AREA.bottom; },
    grid:{display:false, drawTicks:false}, border:{display:false},
    ticks:{font:{size:21, family:FONT}, color:TEXT, padding:9, maxRotation:0, autoSkip:false, callback: plain}
  },
  xTop: {
    type:'linear', position:'top', min:0, max:10000,
    afterBuildTicks: s => { s.ticks = ageTicks.map(v => ({value:v})); },
    afterFit: s => { s.height = AREA.top; },
    grid:{display:false, drawTicks:false}, border:{display:false},
    ticks:{font:{size:21, family:FONT}, color:TEXT, padding:7, maxRotation:0, autoSkip:false, callback: plain}
  }
};
let firstLeft = true, firstRight = true;
PANELS.forEach(p => {
  const r = panelRange(p);
  const wide = p.side === 'left' ? firstLeft : firstRight;
  if (p.side === 'left') firstLeft = false; else firstRight = false;
  const size = p.side === 'left' ? AREA.left : W - AREA.right;
  scales[p.id] = {
    type:'linear', position:p.side, min:r.min, max:r.max,
    weight: wide ? 10 : 0,
    afterBuildTicks: s => { s.ticks = p.ticks.map(v => ({value:v})); },
    afterFit: s => {
      s.width = wide ? size : 0;
      s._computeLabelArea = () => undefined;
    },
    grid:{display:false, drawTicks:false}, border:{display:false},
    ticks:{font:{size:21, family:FONT}, color:TEXT, padding: p.side === 'left' ? 6 : 4, autoSkip:false, callback: plain}
  };
});

// ---------- decorations ----------
function drawYTitle(ctx, cx, cy) {
  ctx.save();
  ctx.translate(cx, cy);
  ctx.rotate(-Math.PI / 2);
  const fD = 'italic 22px ' + FONT, fS = '15px ' + FONT, fM = 'bold 23px ' + FONT;
  ctx.font = fD; const wD = ctx.measureText('δ').width;
  ctx.font = fS; const wS = ctx.measureText('18').width;
  ctx.font = fM; const wM = ctx.measureText('O (per mil VPDB)').width;
  let x = -(wD + wS + 2 + wM) / 2;
  const base = 8;
  ctx.fillStyle = '#333';
  ctx.textBaseline = 'alphabetic'; ctx.textAlign = 'left';
  ctx.font = fD; ctx.fillText('δ', x, base); x += wD + 1;
  ctx.font = fS; ctx.fillText('18', x, base - 9); x += wS + 1;
  ctx.font = fM; ctx.fillText('O (per mil VPDB)', x, base);
  ctx.restore();
}
const decor = {
  id:'decor',
  afterDraw(chart) {
    const ctx = chart.ctx;
    const ca = chart.chartArea;
    const L = Math.round(ca.left) + 0.5, R = Math.round(ca.right) - 0.5;
    const T = Math.round(ca.top) + 0.5, B = Math.round(ca.bottom) + 0.5;
    const seg = (x1, y1, x2, y2, c) => {
      ctx.strokeStyle = c; ctx.lineWidth = 1;
      ctx.beginPath(); ctx.moveTo(x1, y1); ctx.lineTo(x2, y2); ctx.stroke();
    };
    ctx.save();
    seg(L, T, R + 0.5, T, '#555');
    seg(L, B, R + 0.5, B, '#333');
    ageTicks.forEach(v => {
      const px = Math.round(chart.scales.xTop.getPixelForValue(v)) - 0.5;
      seg(px, T, px, T + 5, '#555');
      const pb = Math.round(chart.scales.x.getPixelForValue(v)) - 0.5;
      seg(pb, B, pb, B - 5, '#333');
    });
    PANELS.forEach(p => {
      const s = chart.scales[p.id];
      const left = p.side === 'left';
      const x = left ? L : R;
      const col = left ? '#333' : '#858585';
      const y1 = s.getPixelForValue(p.axis[0]), y2 = s.getPixelForValue(p.axis[1]);
      seg(x, y1, x, y2, col);
      p.ticks.forEach(v => {
        const py = Math.round(s.getPixelForValue(v)) + 0.5;
        seg(x, py, x + (left ? 5 : -5), py, col);
      });
      drawYTitle(ctx, left ? 33 : 692, (y1 + y2) / 2);
    });
    ctx.fillStyle = TEXT;
    ctx.font = '22px ' + FONT;
    ctx.textAlign = 'center'; ctx.textBaseline = 'middle';
    ctx.fillText('Age (years BP)', 340, 19);
    ctx.fillText('Age (years BP)', 341, 1705);
    ctx.textAlign = 'left';
    LABELS.forEach(l => {
      ctx.fillStyle = l.color;
      const px = chart.scales.x.getPixelForValue(l.at[0]);
      const py = chart.scales[l.axis].getPixelForValue(l.at[1]);
      ctx.fillText(l.text, px, py);
    });
    ctx.restore();
  }
};

const datasets = SERIES.map((s, i) => ({
  data: s.data.map(d => ({x: d[0], y: d[1]})),
  xAxisID:'x', yAxisID:s.axis,
  borderColor:s.color, borderWidth:s.w,
  pointRadius:0, fill:false, tension:0,
  order: -i
}));

Chart.defaults.font.family = FONT;
new Chart(document.getElementById('c'), {
  type:'line',
  data:{datasets},
  options:{
    responsive:false, devicePixelRatio:1, animation:false,
    events:[],
    layout:{padding:0},
    parsing:false,
    normalized:true,
    plugins:{legend:{display:false}, tooltip:{enabled:false}},
    scales
  },
  plugins:[decor]
});
</script>
</body></html>
